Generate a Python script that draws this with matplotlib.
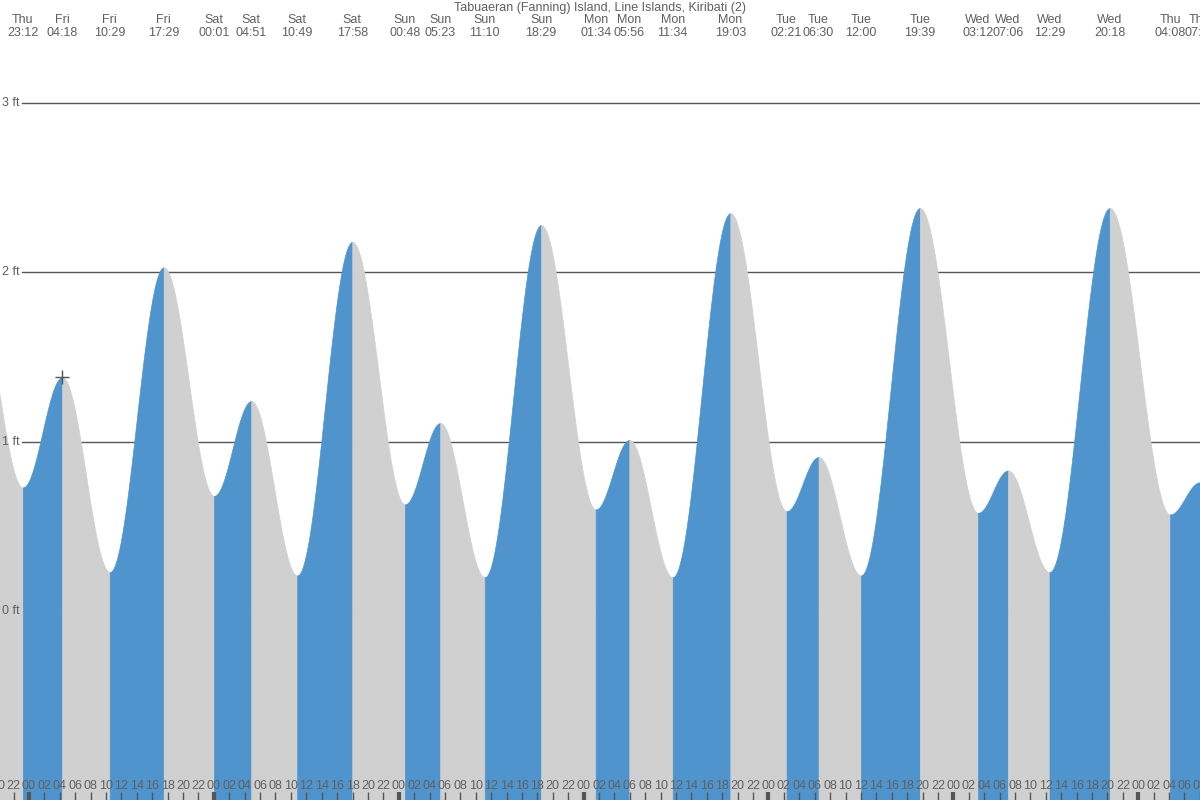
"""Tide chart: Tabuaeran (Fanning) Island, rising/falling tide fills."""
import numpy as np
import matplotlib
matplotlib.use("Agg")
import matplotlib.pyplot as plt

plt.rcParams["font.family"] = ["Liberation Sans", "DejaVu Sans"]

TITLE = "Tabuaeran (Fanning) Island, Line Islands, Kiribati (2)"

# tide extremes (first one is off-screen, only shapes the left edge)
ext_days = ["Thu", "Thu", "Fri", "Fri", "Fri", "Sat", "Sat", "Sat", "Sat",
            "Sun", "Sun", "Sun", "Sun", "Mon", "Mon", "Mon", "Mon",
            "Tue", "Tue", "Tue", "Tue", "Wed", "Wed", "Wed", "Wed",
            "Thu", "Thu"]
ext_times = ["16:55", "23:12", "04:18", "10:29", "17:29", "00:01", "04:51",
             "10:49", "17:58", "00:48", "05:23", "11:10", "18:29", "01:34",
             "05:56", "11:34", "19:03", "02:21", "06:30", "12:00", "19:39",
             "03:12", "07:06", "12:29", "20:18", "04:08", "07:59"]
ext_heights = [1.90, 0.73, 1.38, 0.23, 2.03, 0.68, 1.24, 0.21, 2.18,
               0.63, 1.11, 0.20, 2.28, 0.60, 1.01, 0.20, 2.35,
               0.59, 0.91, 0.21, 2.38, 0.58, 0.83, 0.23, 2.38,
               0.57, 0.76]

y_grid = [0, 1, 2, 3]
cursor_index = 2  # Fri 04:18

BLUE = "#4f94cd"
GREY = "#d0d0d0"
INK = "#606060"


def to_hours(times, start_day=-1):
    """Hours since Fri 00:00, rolling the day when the clock wraps."""
    out, day, prev = [], start_day, None
    for s in times:
        hh, mm = map(int, s.split(":"))
        m = hh * 60 + mm
        if prev is not None and m < prev:
            day += 1
        prev = m
        out.append(day * 24 + m / 60.0)
    return np.array(out)


t_ext = to_hours(ext_times)
h_ext = np.array(ext_heights)

px_per_h = 7.703
x0_px = 29.0
xmin = -x0_px / px_per_h
xmax = (1200 - x0_px) / px_per_h
ft_px = 169.3
zero_px = 611.0
ymax = zero_px / ft_px
ymin = (zero_px - 800) / ft_px

fig = plt.figure(figsize=(12, 8), dpi=100)
ax = fig.add_axes([0, 0, 1, 1])
ax.set_xlim(xmin, xmax)
ax.set_ylim(ymin, ymax)
ax.axis("off")

for g in y_grid:
    ax.axhline(g, xmin=22 / 1200, xmax=1, color="#555555", lw=1, zorder=1)
    ax.text(20 / 1200, (g - ymin) / (ymax - ymin), f"{g} ft",
            transform=ax.transAxes, ha="right", va="center",
            fontsize=9, color=INK, zorder=5)

# cosine curve between each pair of extremes
for i in range(len(t_ext) - 1):
    ta, tb, ha, hb = t_ext[i], t_ext[i + 1], h_ext[i], h_ext[i + 1]
    tt = np.linspace(ta, tb, 80)
    hh = ha + (hb - ha) * (1 - np.cos(np.pi * (tt - ta) / (tb - ta))) / 2
    color = BLUE if hb > ha else GREY
    ax.fill_between(tt, ymin, hh, facecolor=color, edgecolor=color,
                    lw=0.5, zorder=2)

ax.plot(t_ext[cursor_index], h_ext[cursor_index], marker="+", ms=10,
        mew=1, color="#555555", zorder=6)

# top labels at each visible extreme
for d, s, t in zip(ext_days, ext_times, t_ext):
    if t < xmin:
        continue
    ax.text(t, 1 - 20 / 800, d, transform=ax.get_xaxis_transform(),
            ha="center", va="center", fontsize=9, color=INK)
    ax.text(t, 1 - 33 / 800, s, transform=ax.get_xaxis_transform(),
            ha="center", va="center", fontsize=9, color=INK)
ax.text(0.5, 1 - 8 / 800, TITLE, transform=ax.transAxes,
        ha="center", va="center", fontsize=9, color=INK)

# hour ticks along the bottom
for h in range(-4, int(xmax) + 2, 2):
    midnight = h % 24 == 0
    ax.plot([h, h], [ymin, ymin + 8 / ft_px], color="#555555",
            lw=3 if midnight else 1, solid_capstyle="butt", zorder=4)
    ax.text(h, ymin + 14 / ft_px, f"{h % 24:02d}", ha="center", va="center",
            fontsize=9, color=INK, zorder=5)

fig.savefig("out.png", dpi=100)
